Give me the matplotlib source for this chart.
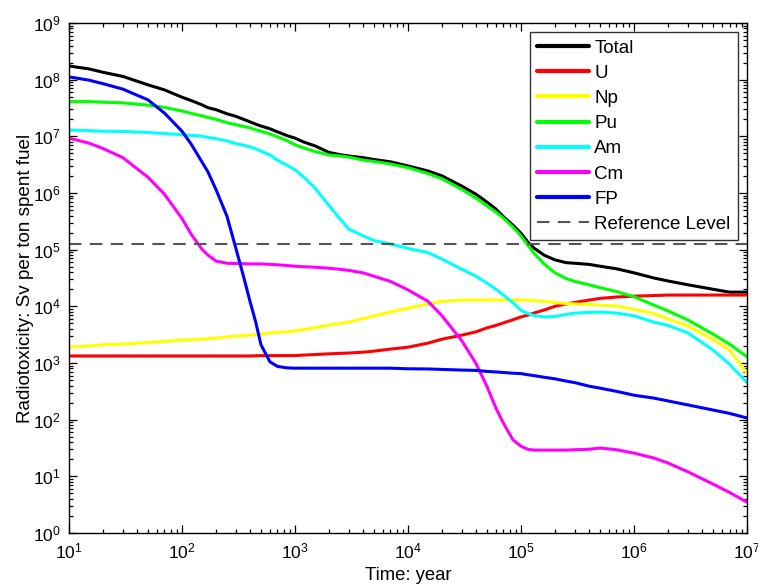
import matplotlib
matplotlib.use("Agg")
import matplotlib.pyplot as plt
from matplotlib.ticker import LogLocator, NullFormatter

# time after discharge (years)
years = [10, 15, 20, 30, 50, 70, 100, 120, 150, 170, 200, 250, 300, 350, 400,
         450, 500, 600, 700, 850, 1e3, 1.2e3, 1.5e3, 2e3, 2.5e3, 3e3, 4e3,
         5e3, 7e3, 1e4, 1.5e4, 2e4, 3e4, 4e4, 5e4, 6e4, 7e4, 8.5e4, 1e5,
         1.15e5, 1.3e5, 1.6e5, 2e5, 2.5e5, 3e5, 4e5, 5e5, 7e5, 1e6, 1.5e6,
         2e6, 3e6, 5e6, 7e6, 1e7]

# radiotoxicity per nuclide group, Sv per ton of spent fuel
total = [1.74e8, 1.55e8, 1.35e8, 1.14e8, 8.1e7, 6.6e7, 4.9e7, 4.3e7, 3.6e7,
         3.2e7, 2.95e7, 2.5e7, 2.25e7, 2.0e7, 1.8e7, 1.64e7, 1.52e7, 1.36e7,
         1.2e7, 1.03e7, 9.3e6, 7.9e6, 6.8e6, 5.2e6, 4.75e6, 4.5e6, 4.2e6,
         3.9e6, 3.55e6, 3.0e6, 2.45e6, 2.0e6, 1.32e6, 9.5e5, 6.9e5, 5.2e5,
         3.8e5, 2.7e5, 1.95e5, 1.36e5, 1.07e5, 8.0e4, 6.6e4, 5.9e4, 5.75e4,
         5.5e4, 5.1e4, 4.6e4, 3.9e4, 3.16e4, 2.8e4, 2.4e4, 2.0e4, 1.78e4,
         1.78e4]
u = [1.33e3, 1.33e3, 1.33e3, 1.33e3, 1.33e3, 1.33e3, 1.33e3, 1.33e3, 1.33e3,
     1.33e3, 1.33e3, 1.33e3, 1.33e3, 1.33e3, 1.33e3, 1.34e3, 1.35e3, 1.35e3,
     1.35e3, 1.35e3, 1.35e3, 1.38e3, 1.41e3, 1.45e3, 1.48e3, 1.5e3, 1.55e3,
     1.62e3, 1.76e3, 1.9e3, 2.24e3, 2.63e3, 3.1e3, 3.55e3, 4.17e3, 4.6e3,
     5.1e3, 5.8e3, 6.5e3, 7.0e3, 7.6e3, 8.6e3, 1.0e4, 1.1e4, 1.17e4, 1.29e4,
     1.38e4, 1.46e4, 1.51e4, 1.55e4, 1.58e4, 1.58e4, 1.58e4, 1.58e4, 1.58e4]
np_ = [1.9e3, 2.0e3, 2.1e3, 2.16e3, 2.3e3, 2.4e3, 2.54e3, 2.58e3, 2.63e3,
       2.68e3, 2.75e3, 2.88e3, 2.98e3, 3.05e3, 3.1e3, 3.17e3, 3.24e3, 3.39e3,
       3.47e3, 3.57e3, 3.67e3, 3.9e3, 4.17e3, 4.68e3, 4.95e3, 5.25e3, 6.1e3,
       6.76e3, 7.9e3, 9.3e3, 1.1e4, 1.22e4, 1.29e4, 1.29e4, 1.29e4, 1.29e4,
       1.29e4, 1.29e4, 1.29e4, 1.28e4, 1.26e4, 1.22e4, 1.17e4, 1.12e4, 1.1e4,
       1.08e4, 1.05e4, 1.01e4, 8.9e3, 7.4e3, 6.0e3, 4.5e3, 2.6e3, 1.7e3, 6.6e2]
pu = [4.1e7, 4.1e7, 4.0e7, 3.9e7, 3.55e7, 3.24e7, 2.8e7, 2.55e7, 2.3e7,
      2.15e7, 2.0e7, 1.74e7, 1.6e7, 1.5e7, 1.41e7, 1.3e7, 1.23e7, 1.1e7,
      9.8e6, 8.4e6, 7.1e6, 6.2e6, 5.4e6, 4.7e6, 4.5e6, 4.3e6, 3.8e6, 3.6e6,
      3.24e6, 2.8e6, 2.2e6, 1.78e6, 1.15e6, 8.1e5, 5.9e5, 4.6e5, 3.6e5,
      2.5e5, 1.74e5, 1.2e5, 8.7e4, 5.6e4, 3.9e4, 3.1e4, 2.75e4, 2.4e4,
      2.14e4, 1.82e4, 1.48e4, 1.05e4, 8.3e3, 5.75e3, 3.24e3, 2.16e3, 1.29e3]
am = [1.29e7, 1.26e7, 1.23e7, 1.22e7, 1.17e7, 1.12e7, 1.07e7, 1.04e7, 1.01e7,
      9.6e6, 9.1e6, 8.3e6, 7.4e6, 7.0e6, 6.5e6, 6.0e6, 5.5e6, 4.7e6, 3.8e6,
      3.1e6, 2.57e6, 1.9e6, 1.23e6, 6.0e5, 3.5e5, 2.3e5, 1.76e5, 1.45e5,
      1.26e5, 1.05e5, 8.9e4, 6.8e4, 4.5e4, 3.4e4, 2.57e4, 2.0e4, 1.58e4,
      1.15e4, 8.5e3, 7.5e3, 6.9e3, 6.5e3, 6.6e3, 7.2e3, 7.6e3, 7.8e3, 7.9e3,
      7.6e3, 6.8e3, 5.25e3, 4.6e3, 3.4e3, 1.7e3, 9.5e2, 4.5e2]
cm = [9.3e6, 7.6e6, 6.1e6, 4.2e6, 1.9e6, 9.5e5, 3.55e5, 1.9e5, 1.02e5,
      8.0e4, 6.3e4, 5.75e4, 5.7e4, 5.65e4, 5.6e4, 5.6e4, 5.6e4, 5.5e4, 5.4e4,
      5.25e4, 5.1e4, 5.0e4, 4.9e4, 4.7e4, 4.5e4, 4.3e4, 3.9e4, 3.4e4, 2.75e4,
      1.95e4, 1.23e4, 6.8e3, 2.45e3, 9.8e2, 3.85e2, 1.6e2, 86, 44, 34, 30,
      29, 29, 29, 29, 29.5, 30, 31.6, 29.5, 25.7, 21, 17.2, 12, 7.3, 5.2, 3.5]
fp = [1.12e8, 9.8e7, 8.5e7, 6.8e7, 4.4e7, 2.57e7, 1.23e7, 7.4e6, 3.55e6,
      2.34e6, 1.15e6, 3.9e5, 1.05e5, 3.4e4, 1.22e4, 5.2e3, 2.1e3, 1.05e3,
      8.7e2, 8.2e2, 8.1e2, 8.1e2, 8.1e2, 8.1e2, 8.1e2, 8.1e2, 8.1e2, 8.1e2,
      8.1e2, 7.9e2, 7.85e2, 7.7e2, 7.5e2, 7.4e2, 7.1e2, 6.95e2, 6.8e2,
      6.6e2, 6.5e2, 6.2e2, 6.0e2, 5.6e2, 5.25e2, 4.8e2, 4.5e2, 3.9e2, 3.6e2,
      3.16e2, 2.7e2, 2.4e2, 2.14e2, 1.82e2, 1.48e2, 1.29e2, 1.07e2]
reference_level = 1.26e5

series = [
    ("Total", total, "k"),
    ("U", u, "#ff0000"),
    ("Np", np_, "#ffff00"),
    ("Pu", pu, "#00ff00"),
    ("Am", am, "#00ffff"),
    ("Cm", cm, "#ff00ff"),
    ("FP", fp, "#0000ff"),
]

plt.rcParams["font.family"] = ["Liberation Sans", "DejaVu Sans"]

fig = plt.figure(figsize=(7.58, 5.85), dpi=100)
ax = fig.add_axes([0.091, 0.0889, 0.8945, 0.8718])

for name, vals, col in series:
    ax.plot(years, vals, color=col, lw=2.2, label=name, solid_capstyle="round")
ax.axhline(reference_level, color="#555555", lw=1.5, ls=(0, (6, 4)),
           label="Reference Level")

ax.set_xscale("log")
ax.set_yscale("log")
ax.set_xlim(10, 1e7)
ax.set_ylim(1, 1e9)

ax.xaxis.set_major_locator(LogLocator(base=10, numticks=20))
ax.yaxis.set_major_locator(LogLocator(base=10, numticks=20))
ax.xaxis.set_minor_locator(LogLocator(base=10, subs=range(2, 10), numticks=20))
ax.yaxis.set_minor_locator(LogLocator(base=10, subs=range(2, 10), numticks=20))
ax.xaxis.set_minor_formatter(NullFormatter())
ax.yaxis.set_minor_formatter(NullFormatter())
ax.tick_params(which="both", direction="in", top=True, right=True,
               labelsize=12.5, width=0.9)
ax.tick_params(which="major", length=6, pad=6)
ax.tick_params(which="minor", length=3)
for s in ax.spines.values():
    s.set_linewidth(1.0)

ax.set_xlabel("Time: year", fontsize=13.3)
ax.set_ylabel("Radiotoxicity: Sv per ton spent fuel", fontsize=13.6)
ax.xaxis.set_label_coords(0.5, -0.066)
ax.yaxis.set_label_coords(-0.051, 0.5)

leg = ax.legend(loc="upper right", fontsize=13.5, frameon=True, fancybox=False,
                edgecolor="k", handlelength=2.77, handletextpad=0.27,
                labelspacing=0.43, borderpad=0.4, borderaxespad=0.48)
leg.get_frame().set_linewidth(1.0)
for line in leg.get_lines():
    line.set_linewidth(3.0)
leg.get_lines()[-1].set_linewidth(1.5)

fig.savefig("out.png", dpi=100)
